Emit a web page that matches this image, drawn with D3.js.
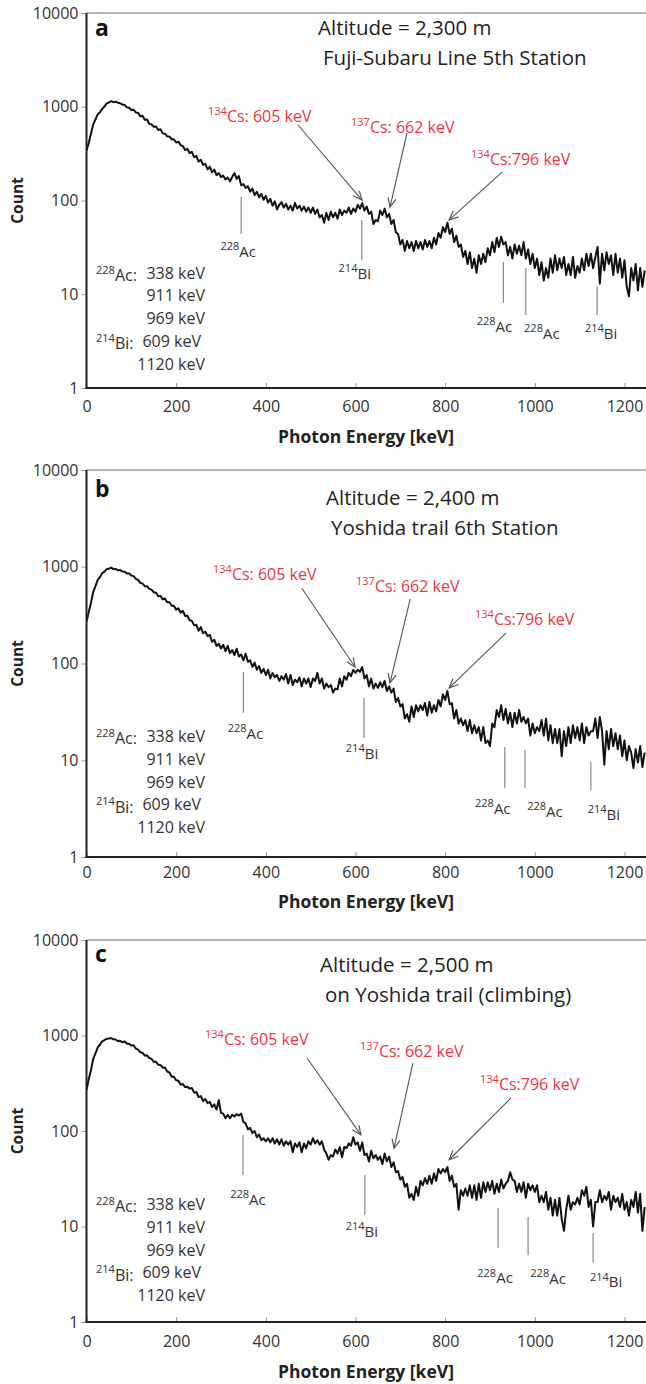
<!DOCTYPE html>
<html>
<head>
<meta charset="utf-8">
<script src="https://cdn.jsdelivr.net/npm/d3@7"></script>
<style>
  body { margin: 0; background: #fff; }
  svg { display: block; }
  text { font-family: 'Open Sans', Lato, sans-serif; fill: #333; }
</style>
</head>
<body>
<svg id="fig" width="646" height="1384"></svg>
<script>
// spectra: counts per 5 keV step (0 .. 1245 keV)
var energyStep = 5;

var countsA = [
  340, 410, 520, 650, 735, 830, 875, 950, 1005, 1085,
  1110, 1150, 1120, 1130, 1105, 1090, 1055, 1045, 985, 975,
  925, 930, 870, 860, 790, 800, 725, 730, 655, 650,
  610, 615, 565, 575, 520, 515, 485, 480, 450, 450,
  415, 425, 390, 380, 345, 355, 320, 330, 290, 300,
  260, 272, 240, 246, 215, 230, 200, 214, 186, 196,
  178, 184, 168, 176, 160, 178, 196, 170, 182, 145,
  150, 136, 142, 124, 134, 114, 124, 108, 118, 102,
  112, 95, 104, 88, 98, 80, 90, 96, 84, 92,
  80, 88, 78, 94, 82, 88, 78, 86, 76, 84,
  74, 84, 72, 80, 66, 70, 58, 74, 62, 76,
  66, 74, 64, 80, 70, 78, 74, 84, 72, 82,
  76, 90, 82, 94, 78, 86, 72, 76, 56, 62,
  60, 78, 70, 82, 66, 72, 56, 62, 46, 44,
  34, 38, 29, 37, 31, 36, 29, 37, 31, 36,
  30, 38, 32, 37, 31, 40, 34, 45, 40, 52,
  46, 58, 44, 50, 36, 42, 32, 34, 25, 29,
  21, 28, 19, 24, 17, 26, 21, 27, 22, 31,
  26, 36, 28, 40, 32, 41, 34, 36, 26, 32,
  24, 34, 27, 33, 26, 36, 24, 30, 21, 27,
  19, 24, 16, 22, 14, 19, 15, 24, 17, 26,
  18, 24, 19, 25, 16, 21, 16, 25, 15, 20,
  17, 24, 18, 27, 20, 27, 19, 25, 32, 13,
  27, 18, 28, 21, 26, 16, 27, 17, 24, 15,
  23, 12, 9.5, 19, 14, 21, 11, 19, 12, 18
];

var countsB = [
  268, 340, 425, 550, 630, 730, 780, 860, 890, 945,
  955, 980, 945, 950, 920, 925, 895, 890, 850, 850,
  810, 800, 750, 730, 680, 670, 630, 630, 590, 580,
  545, 540, 495, 500, 460, 470, 430, 430, 395, 395,
  360, 372, 335, 350, 310, 312, 280, 276, 248, 252,
  218, 238, 205, 214, 192, 198, 168, 176, 152, 160,
  143, 156, 134, 152, 128, 138, 122, 142, 118, 124,
  108, 126, 104, 108, 92, 102, 86, 94, 80, 88,
  76, 86, 70, 80, 72, 76, 66, 74, 68, 78,
  62, 76, 60, 68, 64, 72, 58, 70, 62, 70,
  57, 70, 66, 80, 62, 70, 55, 62, 57, 60,
  50, 55, 54, 70, 58, 74, 68, 80, 74, 86,
  80, 86, 82, 92, 70, 76, 58, 70, 55, 62,
  56, 64, 57, 66, 52, 58, 50, 55, 40, 44,
  36, 38, 27, 30, 25, 36, 28, 37, 32, 37,
  33, 39, 29, 40, 31, 37, 32, 42, 36, 48,
  42, 52, 38, 39, 27, 33, 24, 27, 23, 26,
  20, 26, 19, 23, 19, 22, 16, 22, 15, 16,
  14, 24, 22, 33, 28, 37, 26, 34, 24, 31,
  22, 31, 24, 33, 25, 28, 24, 27, 18, 24,
  19, 22, 20, 26, 18, 27, 16, 23, 15, 21,
  15, 21, 11, 20, 14, 22, 15, 23, 17, 22,
  16, 24, 15, 22, 18, 20, 20, 27, 17, 28,
  20, 9, 20, 13, 21, 14, 19, 13, 18, 11,
  16, 10, 14, 12, 8.3, 13, 9.5, 14, 8.5, 12
];

var countsC = [
  268, 350, 435, 570, 650, 750, 800, 870, 895, 925,
  930, 940, 912, 910, 870, 880, 850, 865, 822, 820,
  785, 790, 730, 712, 668, 660, 615, 620, 580, 570,
  530, 530, 495, 490, 460, 462, 420, 410, 370, 370,
  340, 336, 305, 310, 288, 290, 278, 282, 252, 256,
  226, 232, 206, 216, 196, 202, 178, 190, 168, 210,
  155, 152, 136, 148, 136, 148, 142, 150, 145, 152,
  124, 120, 104, 108, 95, 100, 86, 92, 80, 84,
  78, 84, 76, 84, 74, 82, 72, 82, 70, 78,
  72, 78, 60, 74, 68, 76, 60, 74, 66, 78,
  72, 84, 74, 80, 72, 78, 64, 58, 50, 56,
  54, 64, 58, 68, 53, 68, 66, 74, 70, 86,
  72, 76, 62, 76, 56, 58, 48, 62, 52, 56,
  50, 54, 45, 58, 48, 54, 42, 47, 37, 38,
  31, 33, 26, 28, 20, 22, 19, 26, 21, 30,
  27, 32, 28, 34, 28, 36, 30, 40, 36, 40,
  37, 42, 30, 34, 26, 28, 15, 24, 21, 25,
  21, 27, 20, 27, 19, 28, 20, 29, 23, 29,
  24, 30, 22, 28, 23, 31, 25, 28, 30, 37,
  31, 30, 23, 28, 23, 29, 20, 28, 24, 27,
  23, 27, 18, 21, 18, 23, 15, 20, 13, 19,
  13, 20, 12, 9, 15, 21, 15, 18, 17, 20,
  17, 24, 21, 26, 16, 19, 10, 18, 18, 24,
  18, 21, 19, 23, 15, 21, 18, 20, 16, 22,
  15, 18, 13, 19, 16, 23, 14, 22, 9, 16
];

var xTicks = [0, 200, 400, 600, 800, 1000, 1200];
var yTicks = [1, 10, 100, 1000, 10000];

// isotope marker lines: energy, count at top / bottom of the line
var markIso = [['228', 'Ac'], ['214', 'Bi'], ['228', 'Ac'], ['228', 'Ac'], ['214', 'Bi']];
var markE_A = [345, 614, 930, 980, 1139];
var markTop_A = [109, 62, 22, 19, 12];
var markBot_A = [44, 23, 8.1, 6.0, 6.0];
var markE_B = [350, 619, 933, 978, 1125];
var markTop_B = [82, 44, 13.7, 12.8, 9.6];
var markBot_B = [31, 17, 5.2, 5.2, 4.9];
var markE_C = [349, 621, 918, 985, 1130];
var markTop_C = [91, 34.6, 15.6, 12.6, 8.5];
var markBot_C = [34.6, 13.2, 6.0, 5.0, 4.2];

// Cs peak arrows: [energy, count] of tail and head
var arrowFrom_A = [[472, 639], [715, 525], [927, 201]];
var arrowTo_A = [[614.5, 101], [677, 85], [809, 62]];
var arrowFrom_B = [[480, 603], [722, 464], [936, 207]];
var arrowTo_B = [[599, 92], [677, 63], [809, 56]];
var arrowFrom_C = [[492, 581], [728, 515], [947, 222]];
var arrowTo_C = [[612, 91], [686, 66], [809, 50]];

var csLabels = [['134', 'Cs: 605 keV'], ['137', 'Cs: 662 keV'], ['134', 'Cs:796 keV']];
var legendRows = [['228', 'Ac:', '338 keV'], ['', '', '911 keV'], ['', '', '969 keV'],
                  ['214', 'Bi:', '609 keV'], ['', '', '1120 keV']];

var panels = [
  {letter: 'a', top: 13, bottom: 388, counts: countsA,
   markE: markE_A, markTop: markTop_A, markBot: markBot_A,
   markDx: [-3, -7, -9, 16, 4], markDy: [21, 17, 27, 22, 22],
   arrowFrom: arrowFrom_A, arrowTo: arrowTo_A,
   title: ['Altitude = 2,300 m', 'Fuji-Subaru Line 5th Station'],
   titlePos: [[318, 35], [323, 65]], letterY: 36,
   csPos: [[208, 120], [351, 131], [471, 163]],
   legendY: 278.5, xLabelPad: 13, xTitleY: 443},
  {letter: 'b', top: 470, bottom: 857, counts: countsB,
   markE: markE_B, markTop: markTop_B, markBot: markBot_B,
   markDx: [2, -2, -12, 20, 13], markDy: [24, 19, 24, 27, 28],
   arrowFrom: arrowFrom_B, arrowTo: arrowTo_B,
   title: ['Altitude = 2,400 m', 'Yoshida trail 6th Station'],
   titlePos: [[326, 505], [331, 535]], letterY: 497,
   csPos: [[213, 578], [356, 590], [475, 623]],
   legendY: 742, xLabelPad: 10, xTitleY: 908},
  {letter: 'c', top: 940, bottom: 1322, counts: countsC,
   markE: markE_C, markTop: markTop_C, markBot: markBot_C,
   markDx: [5, -3, -3, 20, 13], markDy: [28, 20, 34, 27, 23],
   arrowFrom: arrowFrom_C, arrowTo: arrowTo_C,
   title: ['Altitude = 2,500 m', 'on Yoshida trail (climbing)'],
   titlePos: [[320, 972], [325, 1002]], letterY: 962,
   csPos: [[205, 1043], [360, 1055], [480, 1088]],
   legendY: 1210, xLabelPad: 14, xTitleY: 1378}
];

var svg = d3.select('#fig');
var left = 86.5, right = 646;
var x = d3.scaleLinear().domain([0, 1248]).range([left, right]);
var red = '#ee3340';

svg.append('defs').append('marker')
  .attr('id', 'arr')
  .attr('markerUnits', 'userSpaceOnUse')
  .attr('markerWidth', 12).attr('markerHeight', 12)
  .attr('refX', 10).attr('refY', 5)
  .attr('orient', 'auto')
  .append('path')
  .attr('d', 'M1,1 L10,5 L1,9')
  .attr('fill', 'none')
  .attr('stroke', '#555')
  .attr('stroke-width', 1.2);

// superscript helper
function supText(sel, sup, rest, supSize) {
  if (sup) {
    sel.append('tspan').attr('font-size', supSize).attr('dy', '-0.45em').text(sup);
    sel.append('tspan').attr('dy', '0.45em').text(rest);
  } else {
    sel.append('tspan').text(rest);
  }
}

panels.forEach(function(p, pi) {
  var y = d3.scaleLog().domain([1, 10000]).range([p.bottom, p.top]);
  var g = svg.append('g');

  g.append('clipPath').attr('id', 'clip' + pi)
    .append('rect')
    .attr('x', left).attr('y', p.top)
    .attr('width', right - left).attr('height', p.bottom - p.top);

  // axes
  var yAxis = d3.axisLeft(y).tickValues(yTicks).tickFormat(d3.format('d'))
    .tickSize(5).tickPadding(3);
  var ga = g.append('g').attr('transform', 'translate(' + left + ',0)').call(yAxis);
  var xAxis = d3.axisBottom(x).tickValues(xTicks).tickFormat(d3.format('d'))
    .tickSizeInner(-5).tickSizeOuter(0).tickPadding(p.xLabelPad);
  var gb = g.append('g').attr('transform', 'translate(0,' + p.bottom + ')').call(xAxis);
  [ga, gb].forEach(function(a) {
    a.select('.domain').remove();
    a.selectAll('.tick line').attr('stroke', '#999');
    a.selectAll('.tick text').attr('font-family', "'Open Sans', sans-serif")
      .attr('font-size', 16).attr('fill', '#333');
  });

  // frame
  g.append('line').attr('x1', left).attr('x2', right).attr('y1', p.top).attr('y2', p.top)
    .attr('stroke', '#9a9a9a').attr('stroke-width', 1.6);

  // spectrum
  var line = d3.line()
    .x(function(d, i) { return x(i * energyStep); })
    .y(function(d) { return y(d); });
  g.append('path').datum(p.counts)
    .attr('clip-path', 'url(#clip' + pi + ')')
    .attr('d', line)
    .attr('fill', 'none')
    .attr('stroke', '#111')
    .attr('stroke-width', 2)
    .attr('stroke-linejoin', 'round');

  g.append('line').attr('x1', left).attr('x2', left).attr('y1', p.top).attr('y2', p.bottom + 1)
    .attr('stroke', '#222').attr('stroke-width', 2);
  g.append('line').attr('x1', left - 1).attr('x2', right).attr('y1', p.bottom).attr('y2', p.bottom)
    .attr('stroke', '#222').attr('stroke-width', 2);

  // isotope marker lines
  p.markE.forEach(function(e, i) {
    g.append('line')
      .attr('x1', x(e)).attr('x2', x(e))
      .attr('y1', y(p.markTop[i])).attr('y2', y(p.markBot[i]))
      .attr('stroke', '#888').attr('stroke-width', 1.2);
    var t = g.append('text')
      .attr('x', x(e) + p.markDx[i])
      .attr('y', y(p.markBot[i]) + p.markDy[i])
      .attr('text-anchor', 'middle')
      .attr('font-size', 15).attr('fill', '#444');
    supText(t, markIso[i][0], markIso[i][1], 11);
  });

  // arrows and Cs labels
  p.arrowFrom.forEach(function(a, i) {
    var b = p.arrowTo[i];
    g.append('line')
      .attr('x1', x(a[0])).attr('y1', y(a[1]))
      .attr('x2', x(b[0])).attr('y2', y(b[1]))
      .attr('stroke', '#555').attr('stroke-width', 1.1)
      .attr('marker-end', 'url(#arr)');
    var t = g.append('text')
      .attr('x', p.csPos[i][0]).attr('y', p.csPos[i][1])
      .attr('font-size', 16).style('fill', red);
    supText(t, csLabels[i][0], csLabels[i][1], 11);
  });

  // panel letter and titles
  g.append('text').attr('x', 95).attr('y', p.letterY)
    .attr('font-family', 'Liberation Sans, Arial, sans-serif')
    .attr('font-weight', 'bold').attr('font-size', 23).style('fill', '#111')
    .text(p.letter);
  p.title.forEach(function(s, i) {
    g.append('text').attr('x', p.titlePos[i][0]).attr('y', p.titlePos[i][1])
      .attr('font-size', 20.5).style('fill', '#222').text(s);
  });

  // legend of line energies
  legendRows.forEach(function(r, i) {
    var yy = p.legendY + i * 22.8;
    if (r[0]) {
      var t = g.append('text').attr('x', 96).attr('y', yy).attr('font-size', 16);
      supText(t, r[0], r[1], 11);
    }
    g.append('text').attr('x', i === 3 ? 201 : 205).attr('y', yy)
      .attr('text-anchor', 'end').attr('font-size', 16).text(r[2]);
  });

  // axis titles
  g.append('text')
    .attr('transform', 'translate(23,' + ((p.top + p.bottom) / 2) + ') rotate(-90)')
    .attr('text-anchor', 'middle').attr('font-weight', 'bold').attr('font-size', 15.5)
    .style('fill', '#222').text('Count');
  g.append('text').attr('x', 366).attr('y', p.xTitleY)
    .attr('text-anchor', 'middle').attr('font-weight', 'bold').attr('font-size', 17.5)
    .style('fill', '#222').text('Photon Energy [keV]');
});
</script>
</body>
</html>
